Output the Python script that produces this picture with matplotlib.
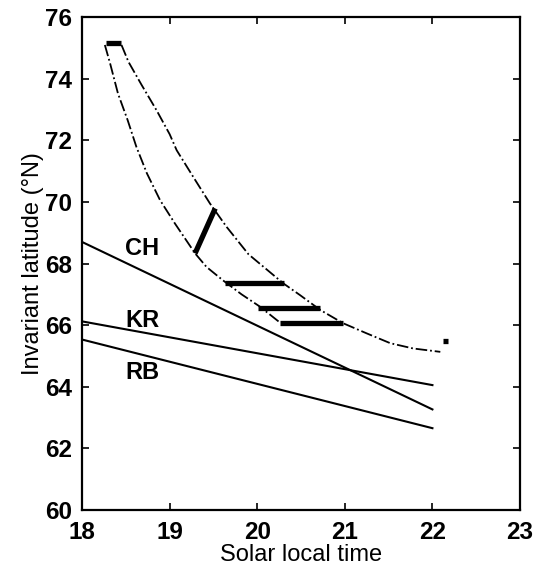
import numpy as np
import matplotlib
matplotlib.use('Agg')
import matplotlib.pyplot as plt

# straight boundary lines (solar local time -> invariant latitude)
line_names = ['CH', 'KR', 'RB']
line_x = [18, 22]
line_ch = [68.7, 63.26]
line_kr = [66.12, 64.05]
line_rb = [65.53, 62.65]
label_pos = [(18.49, 68.5), (18.49, 66.16), (18.49, 64.47)]

# dash-dot envelope, lower/left branch
lower_x = [18.26, 18.32, 18.41, 18.52, 18.62, 18.74, 18.89, 19.06, 19.29,
           19.42, 19.61, 19.82, 20.03, 20.26]
lower_y = [75.1, 74.5, 73.52, 72.66, 71.79, 70.93, 70.06, 69.3, 68.33,
           67.89, 67.45, 67.0, 66.6, 66.08]

# dash-dot envelope, upper/right branch
upper_x = [18.45, 18.53, 18.68, 18.85, 19.00, 19.08, 19.27, 19.46, 19.65,
           19.9, 20.30, 20.49, 20.72, 20.98, 21.25, 21.52, 21.78, 22.09]
upper_y = [75.1, 74.55, 73.8, 72.98, 72.2, 71.68, 70.81, 69.95, 69.19,
           68.3, 67.35, 66.97, 66.49, 66.06, 65.73, 65.41, 65.24, 65.13]

# thick observed segments: (x0, x1, y0, y1)
seg_x0 = [18.27, 19.29, 19.63, 20.01, 20.26, 22.12]
seg_x1 = [18.44, 19.52, 20.30, 20.72, 20.98, 22.18]
seg_y0 = [75.15, 68.33, 67.37, 66.56, 66.07, 65.48]
seg_y1 = [75.15, 69.79, 67.37, 66.56, 66.07, 65.48]

plt.rcParams['font.family'] = ['Liberation Sans', 'DejaVu Sans']

fig = plt.figure(figsize=(5.4, 5.76), dpi=100)
ax = fig.add_axes([0.152, 0.115, 0.811, 0.855])

ax.plot(line_x, line_ch, color='black', lw=1.5)
ax.plot(line_x, line_kr, color='black', lw=1.5)
ax.plot(line_x, line_rb, color='black', lw=1.5)

for name, (lx, ly) in zip(line_names, label_pos):
    ax.text(lx, ly, name, fontsize=17, fontweight='bold', ha='left', va='center')

ax.plot(lower_x, lower_y, color='black', lw=1.3, ls='-.')
ax.plot(upper_x, upper_y, color='black', lw=1.3, ls='-.')

for i in range(len(seg_x0)):
    ax.plot([seg_x0[i], seg_x1[i]], [seg_y0[i], seg_y1[i]], color='black', lw=3.8,
            solid_capstyle='butt')

ax.set_xlim(18, 23)
ax.set_ylim(60, 76)
ax.set_xticks(np.arange(18, 24, 1))
ax.set_yticks(np.arange(60, 77, 2))
ax.tick_params(direction='in', top=True, right=True, length=5, width=1.2,
               labelsize=17.5)
ax.tick_params(axis='x', pad=8)
ax.tick_params(axis='y', pad=7)
for lab in ax.get_xticklabels() + ax.get_yticklabels():
    lab.set_fontweight('bold')
for s in ax.spines.values():
    s.set_linewidth(1.6)

ax.set_xlabel('Solar local time', fontsize=17, labelpad=0)
ax.set_ylabel('Invariant latitude (°N)', fontsize=17, labelpad=1)

fig.savefig('out.png', dpi=100)
